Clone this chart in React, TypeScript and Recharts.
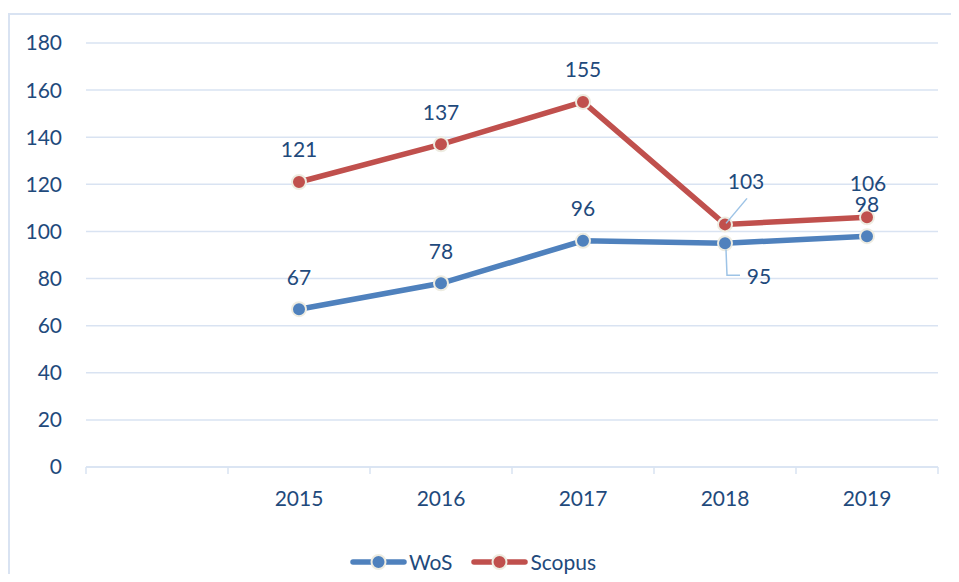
import React from "react";
import { CartesianGrid, LabelList, Legend, Line, LineChart, XAxis, YAxis } from "recharts";

// values (first category is an empty slot, as in the source sheet)
const categories = ["", "2015", "2016", "2017", "2018", "2019"];
const wosValues = [null, 67, 78, 96, 95, 98];
const scopusValues = [null, 121, 137, 155, 103, 106];
const yTicks = [0, 20, 40, 60, 80, 100, 120, 140, 160, 180];
const legendOrder = ["WoS", "Scopus"];

const data = categories.map((year, i) => ({
  year,
  WoS: wosValues[i],
  Scopus: scopusValues[i]
}));

const TEXT = "#1F4A7C";
const GRID = "#D9E3F2";
const BLUE = "#4F81BD";
const RED = "#C0504D";
const DOT_RING = "#EEECE1";
const LEADER = "#9DC3E6";
const FONT = "Lato, 'Open Sans', sans-serif";
const FS = 21;

const W = 943;
const H = 566;
const margin = { top: 35, right: 13, left: 0, bottom: 0 };
const Y_AXIS_W = 78;
const bandWidth = (W - margin.left - margin.right - Y_AXIS_W) / categories.length;

function YearTick(props: any) {
  const { x, y, payload, index } = props;
  const half = bandWidth / 2;
  const last = index === categories.length - 1;
  return (
    <g>
      <line x1={x - half} y1={y} x2={x - half} y2={y + 7} stroke={GRID} strokeWidth={1.5} />
      {last && <line x1={x + half} y1={y} x2={x + half} y2={y + 7} stroke={GRID} strokeWidth={1.5} />}
      <text x={x} y={y + 30} textAnchor="middle" dominantBaseline="central" fill={TEXT} fontSize={FS} fontFamily={FONT}>
        {payload.value}
      </text>
    </g>
  );
}

function pointOf(props: any) {
  const x = props.x ?? props.viewBox?.x;
  const y = props.y ?? props.viewBox?.y;
  return { x, y };
}

function labelText(x: number, y: number, value: any) {
  return (
    <text x={x} y={y} textAnchor="middle" dominantBaseline="central" fill={TEXT} fontSize={FS} fontFamily={FONT}>
      {value}
    </text>
  );
}

function ScopusLabel(props: any) {
  const { value, index } = props;
  if (value == null) return null;
  const { x, y } = pointOf(props);
  if (index === 4) {
    return (
      <g>
        <line x1={x + 22} y1={y - 26} x2={x + 1} y2={y - 1} stroke={LEADER} strokeWidth={1.5} />
        {labelText(x + 21, y - 44, value)}
      </g>
    );
  }
  if (index === 5) return labelText(x + 1, y - 35, value);
  return labelText(x, y - 33, value);
}

function WosLabel(props: any) {
  const { value, index } = props;
  if (value == null) return null;
  const { x, y } = pointOf(props);
  if (index === 4) {
    return (
      <g>
        <polyline
          points={`${x + 1},${y + 6} ${x + 2},${y + 32} ${x + 15},${y + 32}`}
          fill="none"
          stroke={LEADER}
          strokeWidth={1.5}
        />
        {labelText(x + 34, y + 32, value)}
      </g>
    );
  }
  return labelText(x, y - 33, value);
}

function LegendContent(props: any) {
  const items = [...(props.payload || [])].sort(
    (a: any, b: any) => legendOrder.indexOf(a.value) - legendOrder.indexOf(b.value)
  );
  return (
    <div style={{ display: "flex", justifyContent: "center", alignItems: "center", height: 24 }}>
      {items.map((item: any, i: number) => (
        <div key={item.value} style={{ display: "flex", alignItems: "center", marginLeft: i ? 19 : 0 }}>
          <svg width={57} height={24}>
            <line x1={3} x2={54} y1={12} y2={12} stroke={item.color} strokeWidth={5.5} strokeLinecap="round" />
            <circle cx={28.5} cy={12} r={7} fill={item.color} stroke={DOT_RING} strokeWidth={2} />
          </svg>
          <span style={{ marginLeft: 2, fontSize: FS, color: TEXT, fontFamily: FONT, lineHeight: "24px" }}>
            {item.value}
          </span>
        </div>
      ))}
    </div>
  );
}

export default function App() {
  return (
    <div style={{ position: "relative", width: W, height: H }}>
      <div
        style={{
          position: "absolute",
          left: 0,
          top: 5,
          width: W,
          height: H + 3,
          borderTop: `2px solid ${GRID}`,
          borderLeft: `2px solid ${GRID}`
        }}
      />
      <div style={{ position: "absolute", left: 0, top: 0 }}>
        <LineChart width={W} height={H} data={data} margin={margin} style={{ fontFamily: FONT }}>
          <CartesianGrid vertical={false} stroke={GRID} strokeWidth={1.5} />
          <XAxis
            dataKey="year"
            scale="band"
            interval={0}
            height={83}
            tickLine={false}
            tickSize={0}
            tickMargin={0}
            axisLine={{ stroke: GRID, strokeWidth: 1.5 }}
            tick={<YearTick />}
          />
          <YAxis
            width={Y_AXIS_W}
            domain={[0, 180]}
            ticks={yTicks}
            axisLine={false}
            tickLine={false}
            tickSize={0}
            tickMargin={24}
            tick={{ fill: TEXT, fontSize: FS, fontFamily: FONT }}
          />
          <Legend verticalAlign="bottom" height={24} content={<LegendContent />} />
          <Line
            dataKey="WoS"
            stroke={BLUE}
            strokeWidth={5.5}
            dot={{ r: 7, fill: BLUE, stroke: DOT_RING, strokeWidth: 2 }}
            activeDot={false}
            isAnimationActive={false}
          >
            <LabelList dataKey="WoS" content={<WosLabel />} />
          </Line>
          <Line
            dataKey="Scopus"
            stroke={RED}
            strokeWidth={5.5}
            dot={{ r: 7, fill: RED, stroke: DOT_RING, strokeWidth: 2 }}
            activeDot={false}
            isAnimationActive={false}
          >
            <LabelList dataKey="Scopus" content={<ScopusLabel />} />
          </Line>
        </LineChart>
      </div>
    </div>
  );
}
